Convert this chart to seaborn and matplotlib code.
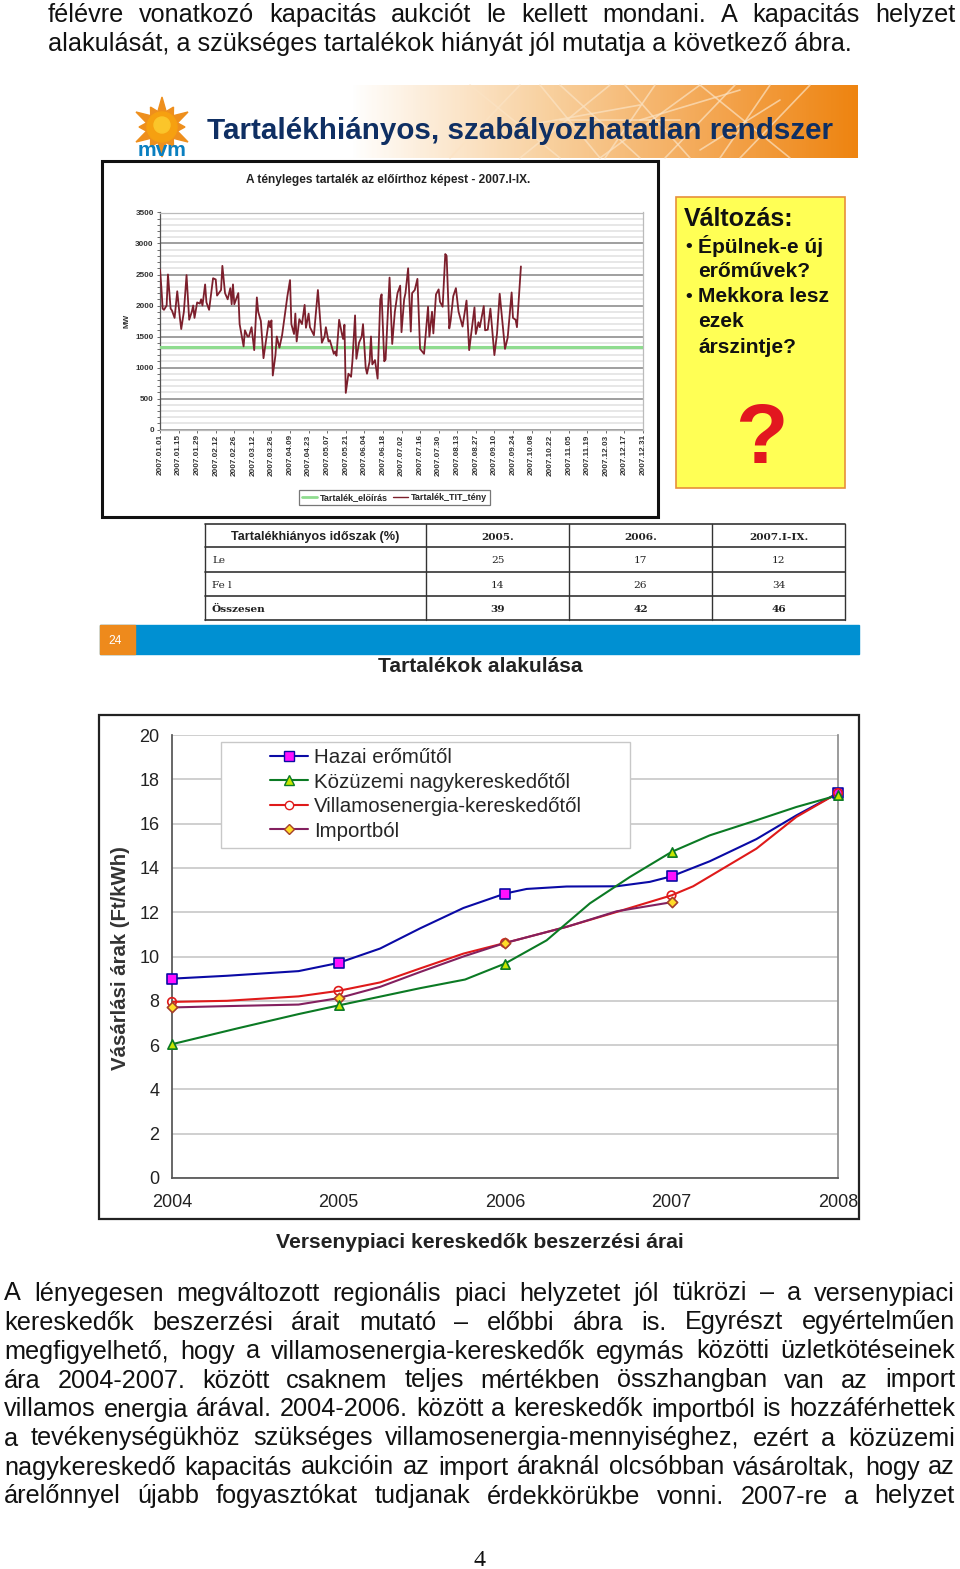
import numpy as np
import matplotlib
matplotlib.use("Agg")
import matplotlib.pyplot as plt
import seaborn as sns
from matplotlib.lines import Line2D
from matplotlib.patches import Rectangle, Circle, Polygon
from matplotlib.colors import LinearSegmentedColormap

# upper chart: tartalek 2007 (day of year, MW)
reserve_day = [0, 1, 2, 3, 5, 6, 8, 9, 11, 13, 15, 16, 18, 20, 22, 24, 25, 26, 28, 30, 31, 32, 34, 35, 37, 40, 42, 43,
               46, 47, 49, 51, 53, 54, 55, 56, 59, 60, 63, 64, 66, 67, 69, 71, 73, 74, 76, 78, 80, 82, 83, 84, 85, 87,
               88, 90, 92, 95, 96, 98, 99, 101, 102, 103, 105, 107, 109, 110, 112, 113, 116, 119, 122, 124, 125, 127,
               128, 131, 132, 133, 135, 137, 138, 139, 140, 142, 144, 145, 147, 148, 150, 152, 153, 155, 156, 158, 159,
               160, 162, 164, 166, 167, 169, 170, 173, 175, 177, 179, 181, 182, 184, 185, 187, 189, 190, 192, 194, 196,
               199, 202, 203, 205, 206, 208, 210, 211, 213, 215, 216, 218, 219, 221, 223, 225, 228, 231, 233, 237, 238,
               240, 241, 244, 245, 247, 249, 252, 254, 256, 260, 262, 265, 266, 268, 269, 272]
reserve_mw = [2580, 2300, 1950, 1930, 2000, 2500, 1950, 1920, 1800, 2230, 1800, 1620, 1900, 2490, 1770, 1900, 2000,
              1800, 2050, 2030, 2100, 2000, 2340, 2050, 1930, 2440, 2420, 2160, 2250, 2640, 2200, 2100, 2280, 2020,
              2340, 2020, 2200, 1700, 1340, 1600, 1500, 1500, 1650, 1280, 2130, 1900, 1750, 1150, 1450, 1750, 1650,
              1760, 870, 1200, 1500, 1320, 1520, 2000, 2150, 2410, 1700, 1540, 1870, 1420, 1780, 1700, 2010, 1640,
              1870, 1650, 1520, 2250, 1400, 1500, 1650, 1420, 1440, 1220, 1260, 1190, 1770, 1550, 1460, 1690, 590,
              900, 850, 1100, 1840, 1140, 1400, 1500, 1700, 1000, 900, 1100, 1500, 1050, 1120, 820, 2100, 2180, 1100,
              1130, 2450, 1380, 1900, 2200, 2320, 1570, 2100, 2200, 2600, 1580, 2200, 2250, 2430, 1300, 1220, 1980,
              1500, 1900, 1550, 2180, 2260, 2060, 1980, 2830, 2800, 1630, 1750, 2150, 2280, 1900, 1660, 2080, 1280,
              1970, 1540, 1730, 1650, 1990, 1600, 1610, 1950, 1200, 1550, 2190, 1300, 1480, 2210, 1800, 1770, 1650,
              2630]
required_mw = 1330
date_labels = ['2007.01.01', '2007.01.15', '2007.01.29', '2007.02.12', '2007.02.26', '2007.03.12', '2007.03.26',
               '2007.04.09', '2007.04.23', '2007.05.07', '2007.05.21', '2007.06.04', '2007.06.18', '2007.07.02',
               '2007.07.16', '2007.07.30', '2007.08.13', '2007.08.27', '2007.09.10', '2007.09.24', '2007.10.08',
               '2007.10.22', '2007.11.05', '2007.11.19', '2007.12.03', '2007.12.17', '2007.12.31']

# table
table_head = ['Tartalékhiányos időszak (%)', '2005.', '2006.', '2007.I-IX.']
table_rows = [['Le', '25', '17', '12'], ['Fe l', '14', '26', '34'], ['Összesen', '39', '42', '46']]

# lower chart: yearly marker values plus points
years = [2004, 2005, 2006, 2007, 2008]
hazai_y = [9.0, 9.71, 12.84, 13.62, 17.38]
kozuzemi_y = [6.04, 7.79, 9.68, 14.72, 17.28]
villamos_y = [7.95, 8.45, 10.61, 12.76, 17.38]
import_y = [7.7, 8.12, 10.61, 12.45]

hazai_cx = [2004, 2004.33, 2004.76, 2005, 2005.25, 2005.49, 2005.75, 2006, 2006.13, 2006.37, 2006.67, 2006.87, 2007,
            2007.23, 2007.51, 2007.75, 2008]
hazai_cy = [9.0, 9.13, 9.34, 9.71, 10.36, 11.27, 12.19, 12.84, 13.05, 13.16, 13.17, 13.37, 13.62, 14.3, 15.3, 16.37,
            17.38]
kozuzemi_cx = [2004, 2004.39, 2004.76, 2005, 2005.49, 2005.76, 2006, 2006.25, 2006.51, 2006.75, 2007, 2007.23, 2007.51,
               2007.75, 2008]
kozuzemi_cy = [6.04, 6.75, 7.4, 7.79, 8.57, 8.96, 9.68, 10.73, 12.4, 13.59, 14.72, 15.47, 16.15, 16.75, 17.28]
villamos_cx = [2004, 2004.33, 2004.76, 2005, 2005.25, 2005.49, 2005.75, 2006, 2006.37, 2006.67, 2007, 2007.13, 2007.51,
               2007.75, 2008]
villamos_cy = [7.95, 8.0, 8.2, 8.45, 8.83, 9.46, 10.13, 10.61, 11.34, 12.01, 12.76, 13.17, 14.87, 16.3, 17.38]
import_cx = [2004, 2004.33, 2004.76, 2005, 2005.25, 2005.49, 2005.75, 2006, 2006.37, 2006.67, 2007]
import_cy = [7.7, 7.76, 7.83, 8.12, 8.63, 9.3, 10.0, 10.61, 11.34, 12.04, 12.45]
legend_names = ['Hazai erőműtől', 'Közüzemi nagykereskedőtől', 'Villamosenergia-kereskedőtől', 'Importból']

top_lines = ['félévre vonatkozó kapacitás aukciót le kellett mondani. A kapacitás helyzet',
             'alakulását, a szükséges tartalékok hiányát jól mutatja a következő ábra.']
body_lines = ['A lényegesen megváltozott regionális piaci helyzetet jól tükrözi – a versenypiaci',
              'kereskedők beszerzési árait mutató – előbbi ábra is. Egyrészt egyértelműen',
              'megfigyelhető, hogy a villamosenergia-kereskedők egymás közötti üzletkötéseinek',
              'ára 2004-2007. között csaknem teljes mértékben összhangban van az import',
              'villamos energia árával. 2004-2006. között a kereskedők importból is hozzáférhettek',
              'a tevékenységükhöz szükséges villamosenergia-mennyiséghez, ezért a közüzemi',
              'nagykereskedő kapacitás aukcióin az import áraknál olcsóbban vásároltak, hogy az',
              'árelőnnyel újabb fogyasztókat tudjanak érdekkörükbe vonni. 2007-re a helyzet']
box_lines = ['Épülnek-e új', 'erőművek?', 'Mekkora lesz', 'ezek', 'árszintje?']

W, H = 960, 1569
SANS = ['Liberation Sans', 'DejaVu Sans']
SERIF = ['DejaVu Serif']

sns.set_theme(style='white')
plt.rcParams['font.family'] = SANS


def px(n):
    return n * 0.72


def axes_px(fig, left, top, right, bottom, **kw):
    return fig.add_axes([left / W, 1 - bottom / H, (right - left) / W, (bottom - top) / H], **kw)


def justified(page, renderer, line, x0, x1, y, size, color='#111111'):
    # spread the words so the line fills x0..x1
    words = line.split(' ')
    items = [page.text(0, y, w, fontsize=px(size), color=color, va='center', ha='left') for w in words]
    widths = [t.get_window_extent(renderer).width for t in items]
    gap = (x1 - x0 - sum(widths)) / (len(words) - 1)
    x = x0
    for t, w in zip(items, widths):
        t.set_x(x)
        x += w + gap


def draw_header(page):
    cmap = LinearSegmentedColormap.from_list('band', [(0, '#ffffff'), (0.12, '#fdf0e0'), (0.4, '#f8cf9c'),
                                                      (0.75, '#f3a24a'), (1, '#ee8410')])
    page.imshow(np.linspace(0, 1, 300).reshape(1, -1), cmap=cmap, extent=(350, 858, 158, 85), aspect='auto', zorder=1)
    for x_a, y_a, x_b, y_b in [(450, 158, 520, 85), (470, 85, 560, 158), (520, 158, 610, 85), (560, 85, 640, 158),
                               (600, 158, 700, 85), (640, 120, 740, 90), (665, 158, 735, 85), (700, 85, 790, 158),
                               (720, 158, 770, 85), (560, 120, 680, 120), (500, 130, 640, 105), (740, 158, 810, 85),
                               (625, 85, 690, 158), (540, 85, 600, 158), (780, 100, 700, 150), (655, 85, 605, 158)]:
        page.plot([x_a, x_b], [y_a, y_b], color='#fbe3c4', lw=1.2, alpha=0.7, zorder=2)
    angle = np.linspace(0, 2 * np.pi, 24, endpoint=False)
    radius = np.where(np.arange(24) % 2 == 0, 30, 16)
    radius[np.arange(24) % 4 == 2] = 23
    page.add_patch(Polygon(np.c_[162 + radius * np.sin(angle), 127 - radius * np.cos(angle)], color='#ee8f1d', zorder=3))
    page.add_patch(Circle((162, 127), 15, color='#f6a010', zorder=4))
    page.add_patch(Circle((162, 125), 8, color='#fbc52a', zorder=5))
    page.text(162, 151, 'mvm', color='#0a7fc0', fontsize=px(21), weight='bold', ha='center', va='center', zorder=6)
    page.text(207, 131, 'Tartalékhiányos, szabályozhatatlan rendszer', color='#0f2f63', fontsize=px(29.6),
              weight='bold', va='center', zorder=6)


def draw_yellow_box(page):
    page.add_patch(Rectangle((676, 197), 169, 291, facecolor='#ffff55', edgecolor='#e8903a', lw=1.2, zorder=2))
    page.text(684, 219, 'Változás:', fontsize=px(25), weight='bold', color='#111111', va='center', zorder=3)
    for i, line in enumerate(box_lines):
        y = 246 + i * 25.3
        page.text(698.5, y, line, fontsize=px(21), weight='bold', color='#111111', va='center', zorder=3)
        if i in (0, 2):
            page.text(685, y, '•', fontsize=px(19), weight='bold', color='#111111', va='center', zorder=3)
    page.text(761, 441, '?', fontsize=px(86), weight='bold', color='#e2171f', ha='center', va='center', zorder=3)


def draw_table(page):
    xs = [205, 426, 569, 712, 845]
    ys = [524, 547, 572, 596, 620]
    for y in ys:
        page.plot([xs[0], xs[-1]], [y, y], color='#333333', lw=1.2, zorder=2)
    for x in xs:
        page.plot([x, x], [ys[0], ys[-1]], color='#333333', lw=1.0, zorder=2)
    page.text(315, 537, table_head[0], fontsize=px(12.6), weight='bold', color='#222222', ha='center', va='center')
    for j, head in enumerate(table_head[1:]):
        page.text((xs[j + 1] + xs[j + 2]) / 2, 537, head, fontsize=px(10.5), weight='bold', family=SERIF,
                  color='#222222', ha='center', va='center')
    for i, row in enumerate(table_rows):
        y = (ys[i + 1] + ys[i + 2]) / 2 + 1
        weight = 'bold' if i == 2 else 'normal'
        page.text(212, y, row[0], fontsize=px(10.5), weight=weight, family=SERIF, color='#222222', va='center')
        for j, val in enumerate(row[1:]):
            page.text((xs[j + 1] + xs[j + 2]) / 2, y, val, fontsize=px(10.5), weight=weight, family=SERIF,
                      color='#222222', ha='center', va='center')


def draw_reserve_chart(ax):
    sns.lineplot(x=reserve_day, y=reserve_mw, ax=ax, color='#7c1f2c', lw=1.3, estimator=None, sort=False, zorder=4)
    ax.axhline(required_mw, color='#8fdc8f', lw=2.2, zorder=3)
    ax.set_xlim(0, 364)
    ax.set_ylim(0, 3500)
    ax.set_xticks(np.arange(len(date_labels)) * 14)
    ax.set_xticklabels(date_labels, rotation=90, fontsize=px(8.2), weight='bold', color='#333333')
    ax.set_yticks(np.arange(0, 3501, 500))
    ax.set_yticks(np.arange(0, 3501, 100), minor=True)
    ax.tick_params(axis='y', labelsize=px(8.2), labelcolor='#333333', pad=2.5)
    ax.tick_params(axis='x', pad=1.5)
    ax.tick_params(which='both', left=True, bottom=True, length=2, width=0.6, color='#555555')
    for label in ax.get_yticklabels():
        label.set_weight('bold')
    ax.grid(True, which='major', axis='y', color='#858585', lw=1.1)
    ax.grid(True, which='minor', axis='y', color='#e0e0e0', lw=1.1)
    ax.set_axisbelow(True)
    ax.set_ylabel('MW', fontsize=px(8), weight='bold', color='#333333')
    ax.yaxis.set_label_coords(-0.062, 0.5)
    for name, spine in ax.spines.items():
        spine.set_color('#555555' if name == 'left' else '#bbbbbb')
        spine.set_linewidth(0.9)


def draw_price_chart(ax, page):
    styles = [(hazai_cx, hazai_cy, years, hazai_y, '#0a0aa5', 's', '#ff10ff', 62),
              (villamos_cx, villamos_cy, years, villamos_y, '#df1a1a', 'o', 'none', 52),
              (import_cx, import_cy, years[:4], import_y, '#83205f', 'D', '#ffdc28', 38),
              (kozuzemi_cx, kozuzemi_cy, years, kozuzemi_y, '#0b7a24', '^', '#c6e600', 62)]
    for cx, cy, mx, my, col, marker, face, size in styles:
        sns.lineplot(x=cx, y=cy, ax=ax, color=col, lw=1.5, estimator=None, sort=False, zorder=4)
        edge = '#a5402a' if marker == 'D' else col
        ax.scatter(mx, my, marker=marker, s=size * 0.72, facecolors=face, edgecolors=edge, linewidths=1.2,
                   zorder=5, clip_on=False)
    ax.set_xlim(2004, 2008)
    ax.set_ylim(0, 20)
    ax.set_xticks(years)
    ax.set_yticks(np.arange(0, 21, 2))
    ax.tick_params(axis='x', labelsize=px(18), labelcolor='#222222', pad=5.5)
    ax.tick_params(axis='y', labelsize=px(18), labelcolor='#222222', pad=3)
    ax.grid(True, axis='y', color='#c2c2c2', lw=1.1)
    ax.set_axisbelow(True)
    ax.set_ylabel('Vásárlási árak (Ft/kWh)', fontsize=px(20.4), weight='bold', color='#333333')
    ax.yaxis.set_label_coords(-0.063, 0.4966)
    ax.spines['top'].set_visible(False)
    ax.spines['left'].set_color('#555555')
    ax.spines['bottom'].set_color('#555555')
    ax.spines['right'].set_color('#8f8f8f')
    # legend box is wider than its content, so the frame is drawn on its own
    ax.add_patch(Rectangle((221, 742), 409, 106, transform=page.transData, facecolor='white', edgecolor='#c8c8c8',
                           lw=1.0, zorder=5.5))
    handles = [Line2D([], [], color='#0a0aa5', marker='s', mfc='#ff10ff', mec='#0a0aa5', ms=6.5),
               Line2D([], [], color='#0b7a24', marker='^', mfc='#c6e600', mec='#0b7a24', ms=7),
               Line2D([], [], color='#df1a1a', marker='o', mfc='white', mec='#df1a1a', ms=6),
               Line2D([], [], color='#83205f', marker='D', mfc='#ffdc28', mec='#a5402a', ms=5)]
    leg = ax.legend(handles, legend_names, loc='upper left', bbox_to_anchor=((270 - 172) / 666, (1178 - 748) / 443),
                    frameon=False, fontsize=px(20.5), handlelength=1.85, handletextpad=0.3, labelspacing=0.27,
                    borderpad=0, borderaxespad=0)
    leg.set_zorder(6)


if __name__ == "__main__":
    fig = plt.figure(figsize=(W / 100, H / 100), dpi=100, facecolor='white')
    page = fig.add_axes([0, 0, 1, 1])
    page.set_xlim(0, W)
    page.set_ylim(H, 0)
    page.axis('off')
    renderer = fig.canvas.get_renderer()

    draw_header(page)
    page.set_xlim(0, W)
    page.set_ylim(H, 0)

    # running text
    justified(page, renderer, top_lines[0], 48, 955, 15, 25.2)
    page.text(48, 44, top_lines[1], fontsize=px(25.2), color='#111111', va='center')
    for i, line in enumerate(body_lines):
        justified(page, renderer, line, 4, 955, 1293.5 + i * 29, 25.2)
    page.text(479, 1560, '4', fontsize=px(24), family=['Liberation Serif'], color='#111111', ha='center', va='center')

    # frames and blocks
    page.add_patch(Rectangle((102, 161), 556, 356, facecolor='white', edgecolor='#111111', lw=2.2, zorder=2))
    page.text(388, 180, 'A tényleges tartalék az előírthoz képest - 2007.I-IX.', fontsize=px(11.9), weight='bold',
              color='#222222', ha='center', va='center', zorder=3)
    draw_yellow_box(page)
    draw_table(page)
    page.add_patch(Rectangle((100, 625), 759, 29, color='#0090d2', zorder=2))
    page.add_patch(Rectangle((100, 625), 35, 29, color='#ee8a1c', zorder=3))
    page.text(115, 641, '24', color='white', fontsize=px(12), ha='center', va='center', zorder=4)
    page.text(480, 667, 'Tartalékok alakulása', fontsize=px(21), weight='bold', color='#222222', ha='center',
              va='center', zorder=3)
    page.add_patch(Rectangle((98.5, 714.5), 760, 504, facecolor='white', edgecolor='#222222', lw=1.6, zorder=2))
    page.text(480, 1242, 'Versenypiaci kereskedők beszerzési árai', fontsize=px(21.1), weight='bold', color='#222222',
              ha='center', va='center')

    reserve_ax = axes_px(fig, 160, 212.5, 643, 429.5)
    draw_reserve_chart(reserve_ax)
    reserve_handles = [Line2D([], [], color='#8fdc8f', lw=2), Line2D([], [], color='#7c1f2c', lw=1)]
    reserve_leg = reserve_ax.legend(reserve_handles, ['Tartalék_előírás', 'Tartalék_TIT_tény'], ncol=2,
                                    loc='center', bbox_to_anchor=((394.5 - 160) / 483, (429.5 - 497.5) / 217),
                                    frameon=True, prop={'weight': 'bold', 'size': px(9)},
                                    handlelength=1.7, handletextpad=0.25, columnspacing=0.6, borderpad=0.35,
                                    fancybox=False, edgecolor='#777777', framealpha=1)
    reserve_leg.get_frame().set_linewidth(0.9)

    price_ax = axes_px(fig, 172, 735, 838, 1178)
    draw_price_chart(price_ax, page)

    fig.savefig('out.png', dpi=100)
